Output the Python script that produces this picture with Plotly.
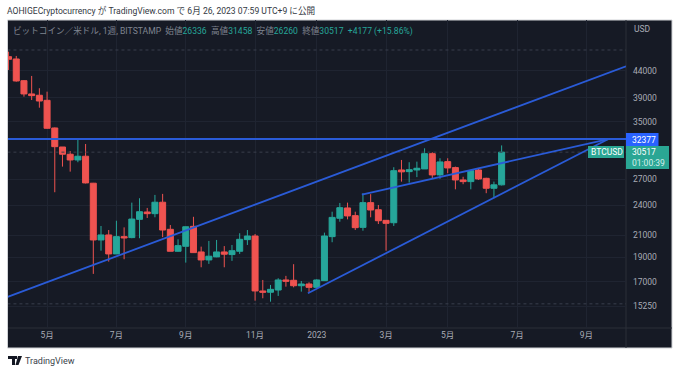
import pandas as pd
import plotly.graph_objects as go

WEEK_START = "2022-03-28"
opens = [46940,46450,42120,39675,39440,38550,34030,31235,30230,29460,29960,26530,20540,21010,19285,20850,20760,22540,23300,23125,24350,21550,19520,19960,21840,19460,18770,19030,19460,19230,19520,20570,20910,16320,16225,16390,17150,17125,16710,16840,16590,17095,20850,22650,23730,22920,21740,24305,23540,22440,22200,28160,27950,28160,28290,30310,27540,29240,28460,26920,26720,28160,27120,25930,26336]
highs = [48010,47090,42250,43030,40710,40085,34100,31235,30675,32380,31660,26565,21876,21480,22400,21740,24305,24790,23730,25165,25280,21970,20600,21820,22800,19930,20450,20540,19980,20080,21170,21480,21100,17150,16770,17285,17470,18415,17070,16970,17205,21230,23330,24270,24305,23330,25360,25250,24050,22470,28510,29460,29160,29240,31050,30500,29690,29690,28590,27310,28160,28380,27190,26720,31458]
lows = [44200,41930,39190,38600,37290,33900,25470,28590,27950,29160,26500,17625,19570,18630,19285,18830,20700,20700,22680,22750,20800,19520,19480,18545,19400,18160,18440,19000,18160,18690,19285,20080,15620,15790,15550,15960,16640,16590,16270,16250,16540,17080,20330,22300,22540,21480,21415,22750,22070,19570,21880,26720,26600,27270,28290,27120,27050,27750,25810,26410,25810,26920,25360,24790,26260]
closes = [46385,42065,39675,39370,38430,33985,31280,30230,29460,29960,26565,20540,21010,19285,20850,20730,22570,23330,23125,24350,21480,19520,20020,21800,19400,18770,19090,19460,19260,19570,20600,20910,16320,16225,16440,17150,17050,16710,16840,16590,17150,20910,22740,23760,22890,21710,24305,23510,22400,22140,28070,27920,28200,28380,30310,27540,29200,28420,26920,26720,28070,27040,25930,26336,30517]

y_ticks = [44000,39000,35000,27000,24000,21000,19000,17000,15250]
x_tick_dates = ["2022-05-02","2022-07-04","2022-09-05","2022-11-07","2023-01-02","2023-03-06","2023-05-01","2023-07-03","2023-09-04"]
x_tick_text = ["5月","7月","9月","11月","2023","3月","5月","7月","9月"]

level_x = ["2022-03-27","2023-10-10"]
level_y = [32377,32377]
upper_x = ["2022-03-27","2023-10-10"]
upper_y = [15886,44943]
lower_x = ["2022-12-25","2023-09-24"]
lower_y = [16150,32377]
mid_x = ["2023-02-12","2023-09-24"]
mid_y = [25200,32377]
dotted_levels = [48370,30517,15400]

BG = "#161a25"; GREEN = "#26a69a"; RED = "#ef5350"; BLUE = "#2a5bd7"; GRID = "#1f2431"; TXT = "#a9acb6"
FONT = "Roboto, 'Noto Sans CJK JP', sans-serif"
# page pixels -> plot-area fractions (plot area spans x 8..626, y 20..328 on the page)
fx = lambda v: (v - 8) / 618
fy = lambda v: (328 - v) / 308

fig = go.Figure()
for lv in dotted_levels:
    fig.add_trace(go.Scatter(x=level_x, y=[lv, lv], mode="lines", line=dict(color="#3a3f4c", width=1, dash="dot"), hoverinfo="skip"))
fig.add_trace(go.Candlestick(
    x=pd.date_range(WEEK_START, periods=len(opens), freq="7D"),
    open=opens, high=highs, low=lows, close=closes,
    increasing=dict(line=dict(color=GREEN, width=1), fillcolor=GREEN),
    decreasing=dict(line=dict(color=RED, width=1), fillcolor=RED),
    whiskerwidth=0))
for xs, ys in [(level_x, level_y), (upper_x, upper_y), (lower_x, lower_y), (mid_x, mid_y)]:
    fig.add_trace(go.Scatter(x=xs, y=ys, mode="lines", line=dict(color=BLUE, width=1.8), hoverinfo="skip"))

def rect(x0, y0, x1, y1, fill, line=None, layer="below"):
    return dict(type="rect", xref="paper", yref="paper", x0=fx(x0), x1=fx(x1), y0=fy(y1), y1=fy(y0),
                fillcolor=fill, line=dict(color=line or fill, width=1 if line else 0), layer=layer)

def poly(points, fill):
    d = "M " + " L ".join(f"{fx(a):.5f},{fy(b):.5f}" for a, b in points) + " Z"
    return dict(type="path", xref="paper", yref="paper", path=d, fillcolor=fill, line=dict(width=0), layer="above")

shapes = [
    rect(7.5, 20, 672, 348, BG, "#d0d2d6"),
    dict(type="line", xref="paper", yref="paper", x0=fx(626), x1=fx(626), y0=fy(20), y1=fy(348), line=dict(color="#2a2e39", width=1), layer="below"),
    dict(type="line", xref="paper", yref="paper", x0=fx(8), x1=fx(672), y0=fy(328), y1=fy(328), line=dict(color="#2a2e39", width=1), layer="below"),
    rect(626, 133, 658.5, 147, "#2962ff", layer="above"),
    rect(588, 146, 624, 158, "#2aa694", layer="above"),
    rect(626, 146, 669, 169, "#2aa694", layer="above"),
    poly([(8, 356), (15, 356), (15, 365), (12, 365), (12, 359), (8, 359)], "#131722"),
    poly([(14.5, 356), (17, 356), (17, 359), (14.5, 359)], "#131722"),
    poly([(18, 356), (22, 356), (18.5, 365), (15.5, 365)], "#131722"),
]

def note(x, y, text, color, size=8.5, anchor="left"):
    return dict(xref="paper", yref="paper", x=fx(x), y=fy(y), text=text, showarrow=False, xanchor=anchor, yanchor="middle",
                font=dict(color=color, size=size, family=FONT), borderpad=0, borderwidth=0)

def g(s):
    return f'<span style="color:{GREEN}">{s}</span>'

legend = ("ビットコイン／米ドル, 1週, BITSTAMP  始値" + g("26336") + "  高値" + g("31458") + "  安値" + g("26260")
          + "  終値" + g("30517") + "  " + g("+4177 (+15.86%)"))
annotations = [
    note(7, 11, "AOHIGECryptocurrency が TradingView.com で 6月 26, 2023 07:59 UTC+9 に公開", "#333842", 8.6),
    note(13, 31, legend, "#7f8490", 8.6),
    note(634, 29, "USD", TXT),
    note(632, 140, "32377", "#ffffff"),
    note(591, 152, "BTCUSD", "#ffffff"),
    note(632, 152, "30517", "#ffffff"),
    note(632, 163, "01:00:39", "#d6efec"),
    note(24.5, 361, "TradingView", "#3a3f4a", 9),
]

fig.update_layout(
    width=680, height=374, autosize=False, showlegend=False,
    margin=dict(l=8, r=54, t=20, b=46),
    paper_bgcolor="#ffffff", plot_bgcolor=BG, boxgap=0.22, boxgroupgap=0,
    shapes=shapes, annotations=annotations, font=dict(family=FONT),
    xaxis=dict(type="date", range=["2022-03-27 12:00", "2023-10-10"], rangeslider=dict(visible=False),
               tickmode="array", tickvals=x_tick_dates, ticktext=x_tick_text, tickangle=0,
               showgrid=True, gridcolor=GRID, gridwidth=1, zeroline=False, showline=False, ticklen=0,
               tickfont=dict(color=TXT, size=8.5, family=FONT)),
    yaxis=dict(type="log", range=[4.1402, 4.7433], side="right", tickmode="array",
               tickvals=y_ticks, ticktext=[str(v) for v in y_ticks],
               showgrid=True, gridcolor=GRID, gridwidth=1, zeroline=False, showline=False, ticklen=0,
               ticklabelstandoff=6, tickfont=dict(color=TXT, size=8.5, family=FONT)),
)
fig.write_html("out.html", config={"displayModeBar": False}, post_script="document.body.style.margin='0';")
